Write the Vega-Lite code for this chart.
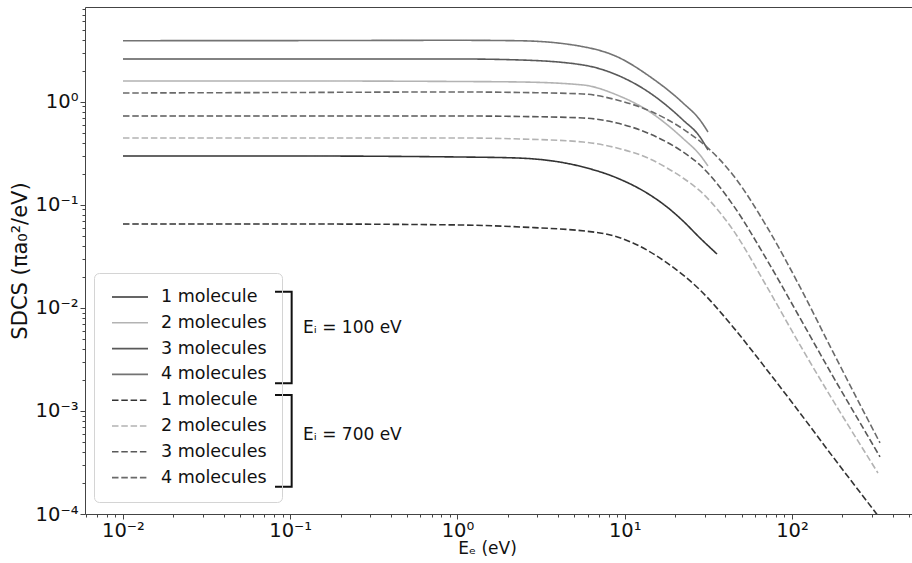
{
  "$schema": "https://vega.github.io/schema/vega-lite/v6.json",
  "width": 827,
  "height": 507,
  "autosize": {"type": "none"},
  "padding": {"left": 85, "top": 7, "right": 0, "bottom": 49},
  "background": "white",
  "config": {
    "view": {"stroke": null},
    "font": "DejaVu Sans",
    "axis": {"grid": false, "domainColor": "#444", "tickColor": "#444", "labelColor": "#111", "titleColor": "#111", "labelFont": "DejaVu Sans", "titleFont": "DejaVu Sans", "titleFontWeight": "normal"}
  },
  "datasets": {
    "curves": [
      {"k": "100 1 molecule", "E": 0.01, "V": 0.2973}, {"k": "100 1 molecule", "E": 0.1, "V": 0.2973}, {"k": "100 1 molecule", "E": 1, "V": 0.2908}, {"k": "100 1 molecule", "E": 2.27, "V": 0.2843}, {"k": "100 1 molecule", "E": 5.63, "V": 0.2326}, {"k": "100 1 molecule", "E": 8.99, "V": 0.1819}, {"k": "100 1 molecule", "E": 14.16, "V": 0.1245}, {"k": "100 1 molecule", "E": 17.89, "V": 0.0952}, {"k": "100 1 molecule", "E": 22.3, "V": 0.0697}, {"k": "100 1 molecule", "E": 28.18, "V": 0.0476}, {"k": "100 1 molecule", "E": 35.61, "V": 0.0333},
      {"k": "100 2 molecules", "E": 0.01, "V": 1.588}, {"k": "100 2 molecules", "E": 0.1, "V": 1.588}, {"k": "100 2 molecules", "E": 1, "V": 1.57}, {"k": "100 2 molecules", "E": 2.365, "V": 1.553}, {"k": "100 2 molecules", "E": 5.63, "V": 1.452}, {"k": "100 2 molecules", "E": 8.99, "V": 1.161}, {"k": "100 2 molecules", "E": 14.16, "V": 0.7946}, {"k": "100 2 molecules", "E": 22.3, "V": 0.44}, {"k": "100 2 molecules", "E": 28.18, "V": 0.304}, {"k": "100 2 molecules", "E": 31.46, "V": 0.238},
      {"k": "100 3 molecules", "E": 0.01, "V": 2.596}, {"k": "100 3 molecules", "E": 0.1, "V": 2.596}, {"k": "100 3 molecules", "E": 1, "V": 2.596}, {"k": "100 3 molecules", "E": 2.365, "V": 2.539}, {"k": "100 3 molecules", "E": 5.63, "V": 2.27}, {"k": "100 3 molecules", "E": 8.99, "V": 1.816}, {"k": "100 3 molecules", "E": 14.16, "V": 1.214}, {"k": "100 3 molecules", "E": 22.3, "V": 0.6644}, {"k": "100 3 molecules", "E": 28.18, "V": 0.4546}, {"k": "100 3 molecules", "E": 31.46, "V": 0.34},
      {"k": "100 4 molecules", "E": 0.01, "V": 3.906}, {"k": "100 4 molecules", "E": 0.1, "V": 3.915}, {"k": "100 4 molecules", "E": 1, "V": 3.94}, {"k": "100 4 molecules", "E": 2.365, "V": 3.9}, {"k": "100 4 molecules", "E": 5.63, "V": 3.417}, {"k": "100 4 molecules", "E": 8.99, "V": 2.732}, {"k": "100 4 molecules", "E": 14.16, "V": 1.748}, {"k": "100 4 molecules", "E": 22.3, "V": 0.9714}, {"k": "100 4 molecules", "E": 28.18, "V": 0.6644}, {"k": "100 4 molecules", "E": 31.46, "V": 0.5083},
      {"k": "700 1 molecule", "E": 0.01, "V": 0.0651}, {"k": "700 1 molecule", "E": 0.1, "V": 0.0651}, {"k": "700 1 molecule", "E": 1, "V": 0.0637}, {"k": "700 1 molecule", "E": 2.365, "V": 0.0609}, {"k": "700 1 molecule", "E": 7.11, "V": 0.0533}, {"k": "700 1 molecule", "E": 11.2, "V": 0.0426}, {"k": "700 1 molecule", "E": 17.89, "V": 0.0273}, {"k": "700 1 molecule", "E": 28.18, "V": 0.01492}, {"k": "700 1 molecule", "E": 44.38, "V": 0.00653}, {"k": "700 1 molecule", "E": 70.88, "V": 0.0025}, {"k": "700 1 molecule", "E": 111.6, "V": 0.000956}, {"k": "700 1 molecule", "E": 175.8, "V": 0.000358}, {"k": "700 1 molecule", "E": 313.5, "V": 0.000105}, {"k": "700 1 molecule", "E": 335.9, "V": 0.0000906},
      {"k": "700 2 molecules", "E": 0.01, "V": 0.4446}, {"k": "700 2 molecules", "E": 0.1, "V": 0.4446}, {"k": "700 2 molecules", "E": 1, "V": 0.4446}, {"k": "700 2 molecules", "E": 2.365, "V": 0.4346}, {"k": "700 2 molecules", "E": 5.63, "V": 0.4065}, {"k": "700 2 molecules", "E": 8.99, "V": 0.3556}, {"k": "700 2 molecules", "E": 14.16, "V": 0.278}, {"k": "700 2 molecules", "E": 17.89, "V": 0.2275}, {"k": "700 2 molecules", "E": 22.3, "V": 0.1819}, {"k": "700 2 molecules", "E": 28.18, "V": 0.1361}, {"k": "700 2 molecules", "E": 44.38, "V": 0.057}, {"k": "700 2 molecules", "E": 70.88, "V": 0.01595}, {"k": "700 2 molecules", "E": 111.6, "V": 0.004367}, {"k": "700 2 molecules", "E": 175.8, "V": 0.001264}, {"k": "700 2 molecules", "E": 280.8, "V": 0.00037}, {"k": "700 2 molecules", "E": 326.7, "V": 0.00025},
      {"k": "700 3 molecules", "E": 0.01, "V": 0.7266}, {"k": "700 3 molecules", "E": 0.1, "V": 0.7266}, {"k": "700 3 molecules", "E": 1, "V": 0.7266}, {"k": "700 3 molecules", "E": 2.365, "V": 0.7186}, {"k": "700 3 molecules", "E": 5.63, "V": 0.6948}, {"k": "700 3 molecules", "E": 8.99, "V": 0.6215}, {"k": "700 3 molecules", "E": 14.16, "V": 0.4861}, {"k": "700 3 molecules", "E": 22.3, "V": 0.3252}, {"k": "700 3 molecules", "E": 28.18, "V": 0.2432}, {"k": "700 3 molecules", "E": 44.38, "V": 0.0996}, {"k": "700 3 molecules", "E": 70.88, "V": 0.02914}, {"k": "700 3 molecules", "E": 111.6, "V": 0.00798}, {"k": "700 3 molecules", "E": 175.8, "V": 0.00216}, {"k": "700 3 molecules", "E": 280.8, "V": 0.00059}, {"k": "700 3 molecules", "E": 335.9, "V": 0.000358},
      {"k": "700 4 molecules", "E": 0.01, "V": 1.214}, {"k": "700 4 molecules", "E": 0.1, "V": 1.228}, {"k": "700 4 molecules", "E": 1, "V": 1.242}, {"k": "700 4 molecules", "E": 2.365, "V": 1.228}, {"k": "700 4 molecules", "E": 5.63, "V": 1.188}, {"k": "700 4 molecules", "E": 8.99, "V": 1.039}, {"k": "700 4 molecules", "E": 14.16, "V": 0.8125}, {"k": "700 4 molecules", "E": 22.3, "V": 0.5435}, {"k": "700 4 molecules", "E": 31.46, "V": 0.3556}, {"k": "700 4 molecules", "E": 44.38, "V": 0.1945}, {"k": "700 4 molecules", "E": 70.88, "V": 0.0609}, {"k": "700 4 molecules", "E": 111.6, "V": 0.01595}, {"k": "700 4 molecules", "E": 175.8, "V": 0.003735}, {"k": "700 4 molecules", "E": 280.8, "V": 0.000855}, {"k": "700 4 molecules", "E": 335.9, "V": 0.000489}
    ],
    "brackets": [
      {"b": "100", "o": 1, "E": 0.0811, "V": 0.01436}, {"b": "100", "o": 2, "E": 0.102, "V": 0.01436}, {"b": "100", "o": 3, "E": 0.102, "V": 0.001856}, {"b": "100", "o": 4, "E": 0.0811, "V": 0.001856},
      {"b": "700", "o": 1, "E": 0.0811, "V": 0.001429}, {"b": "700", "o": 2, "E": 0.102, "V": 0.001429}, {"b": "700", "o": 3, "E": 0.102, "V": 0.0001843}, {"b": "700", "o": 4, "E": 0.0811, "V": 0.0001843}
    ],
    "notes": [
      {"t": "Eᵢ = 100 eV", "E": 0.1192, "V": 0.00638},
      {"t": "Eᵢ = 700 eV", "E": 0.1192, "V": 0.000585}
    ]
  },
  "layer": [
    {
      "data": {"name": "curves"},
      "mark": {"type": "line", "interpolate": "monotone", "strokeWidth": 1.6, "clip": true},
      "encoding": {
        "x": {
          "field": "E", "type": "quantitative",
          "scale": {"type": "log", "domain": [0.005929, 521.9], "nice": false, "zero": false},
          "axis": {
            "orient": "bottom",
            "title": "Eₑ (eV)",
            "titleFontSize": 17,
            "titlePadding": 1,
            "titleX": 402,
            "titleAlign": "center",
            "values": [0.006, 0.007, 0.008, 0.009, 0.01, 0.02, 0.03, 0.04, 0.05, 0.06, 0.07, 0.08, 0.09, 0.1, 0.2, 0.3, 0.4, 0.5, 0.6, 0.7, 0.8, 0.9, 1, 2, 3, 4, 5, 6, 7, 8, 9, 10, 20, 30, 40, 50, 60, 70, 80, 90, 100, 200, 300, 400, 500],
            "labelExpr": "abs(log(datum.value)/LN10 - round(log(datum.value)/LN10)) < 0.01 ? ['10⁻⁴','10⁻³','10⁻²','10⁻¹','10⁰','10¹','10²'][round(log(datum.value)/LN10)+4] : ''",
            "labelFontSize": 19.5,
            "labelOverlap": false,
            "labelBound": false,
            "labelFlush": false,
            "labelPadding": 2,
            "tickSize": {"condition": {"test": "abs(log(datum.value)/LN10 - round(log(datum.value)/LN10)) < 0.01", "value": 5}, "value": 3},
            "domain": true
          }
        },
        "y": {
          "field": "V", "type": "quantitative",
          "scale": {"type": "log", "domain": [0.0001, 8.29], "nice": false, "zero": false},
          "axis": {
            "orient": "left",
            "title": "SDCS (πa₀²/eV)",
            "titleFontSize": 21,
            "titlePadding": 5,
            "values": [0.0001, 0.0002, 0.0003, 0.0004, 0.0005, 0.0006, 0.0007, 0.0008, 0.0009, 0.001, 0.002, 0.003, 0.004, 0.005, 0.006, 0.007, 0.008, 0.009, 0.01, 0.02, 0.03, 0.04, 0.05, 0.06, 0.07, 0.08, 0.09, 0.1, 0.2, 0.3, 0.4, 0.5, 0.6, 0.7, 0.8, 0.9, 1, 2, 3, 4, 5, 6, 7, 8],
            "labelExpr": "abs(log(datum.value)/LN10 - round(log(datum.value)/LN10)) < 0.01 ? ['10⁻⁴','10⁻³','10⁻²','10⁻¹','10⁰','10¹','10²'][round(log(datum.value)/LN10)+4] : ''",
            "labelFontSize": 19.5,
            "labelOverlap": false,
            "labelBound": false,
            "labelFlush": false,
            "labelPadding": 2,
            "tickSize": {"condition": {"test": "abs(log(datum.value)/LN10 - round(log(datum.value)/LN10)) < 0.01", "value": 5}, "value": 3},
            "domain": true
          }
        },
        "color": {
          "field": "k", "type": "nominal",
          "scale": {
            "domain": ["100 1 molecule", "100 2 molecules", "100 3 molecules", "100 4 molecules", "700 1 molecule", "700 2 molecules", "700 3 molecules", "700 4 molecules"],
            "range": ["#333333", "#b3b3b3", "#595959", "#737373", "#333333", "#b3b3b3", "#595959", "#6a6a6a"]
          },
          "legend": {
            "orient": "none", "legendX": 9, "legendY": 266,
            "title": null,
            "symbolType": "M-2.25,0H2.25",
            "symbolSize": 256,
            "symbolStrokeWidth": 1.6,
            "symbolOffset": 12,
            "labelOffset": 22,
            "labelFontSize": 17.5,
            "labelFont": "DejaVu Sans",
            "labelColor": "#111",
            "labelLimit": 300,
            "rowPadding": 7.8,
            "padding": 15,
            "strokeColor": "#d4d4d4",
            "cornerRadius": 5,
            "labelExpr": "substring(datum.label, 4) + '\u00a0'"
          }
        },
        "strokeDash": {
          "field": "k", "type": "nominal",
          "scale": {
            "domain": ["100 1 molecule", "100 2 molecules", "100 3 molecules", "100 4 molecules", "700 1 molecule", "700 2 molecules", "700 3 molecules", "700 4 molecules"],
            "range": [[1, 0], [1, 0], [1, 0], [1, 0], [6.5, 2.8], [6.5, 2.8], [6.5, 2.8], [6.5, 2.8]]
          }
        },
        "detail": {"field": "k"}
      }
    },
    {
      "data": {"name": "brackets"},
      "mark": {"type": "line", "color": "#111", "strokeWidth": 2, "strokeJoin": "miter"},
      "encoding": {
        "x": {"field": "E", "type": "quantitative", "axis": {"orient": "top", "ticks": false, "labels": false, "domain": true, "title": null}},
        "y": {"field": "V", "type": "quantitative", "axis": null},
        "detail": {"field": "b"},
        "order": {"field": "o"}
      }
    },
    {
      "data": {"name": "notes"},
      "mark": {"type": "text", "align": "left", "baseline": "middle", "fontSize": 17, "color": "#111", "font": "DejaVu Sans"},
      "encoding": {
        "x": {"field": "E", "type": "quantitative", "axis": null},
        "y": {"field": "V", "type": "quantitative", "axis": null},
        "text": {"field": "t"}
      }
    }
  ],
  "resolve": {"axis": {"x": "independent", "y": "independent"}}
}
